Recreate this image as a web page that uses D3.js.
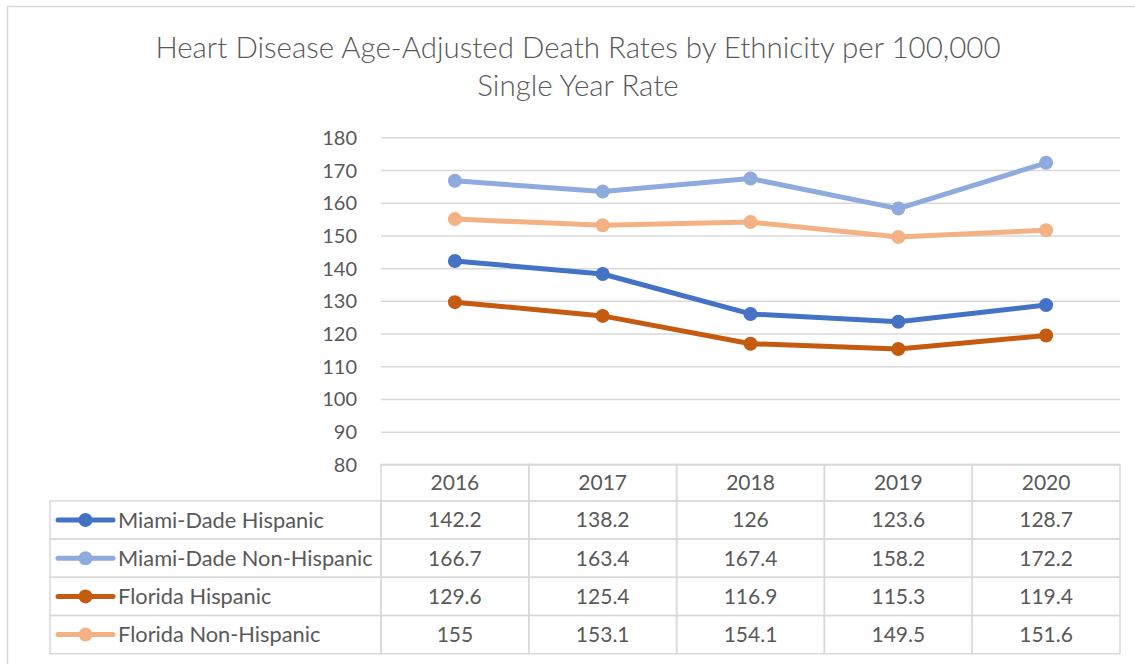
<!DOCTYPE html>
<html>
<head>
<meta charset="utf-8">
<script src="https://cdn.jsdelivr.net/npm/d3@7"></script>
<style>
  body { margin: 0; background: #fff; }
  svg text { font-family: Lato, "Open Sans", sans-serif; fill: #595959; }
</style>
</head>
<body>
<div id="chart"></div>
<script>
const years = ["2016", "2017", "2018", "2019", "2020"];
const seriesNames = ["Miami-Dade Hispanic", "Miami-Dade Non-Hispanic", "Florida Hispanic", "Florida Non-Hispanic"];
const miamiHispanic = [142.2, 138.2, 126, 123.6, 128.7];
const miamiNonHispanic = [166.7, 163.4, 167.4, 158.2, 172.2];
const floridaHispanic = [129.6, 125.4, 116.9, 115.3, 119.4];
const floridaNonHispanic = [155, 153.1, 154.1, 149.5, 151.6];
const seriesColors = ["#4472C4", "#8FAADC", "#C55A11", "#F4B183"];
const yTicks = [80, 90, 100, 110, 120, 130, 140, 150, 160, 170, 180];
const titleLines = ["Heart Disease Age-Adjusted Death Rates by Ethnicity per 100,000", "Single Year Rate"];

function main(){
    let width = 1135;
    let height = 664;

    let series = seriesNames.map(function(name, i){
        return {name: name, values: [miamiHispanic, miamiNonHispanic, floridaHispanic, floridaNonHispanic][i], color: seriesColors[i]};
    });

    let svg = d3.select("#chart").append("svg")
        .attr("width", width)
        .attr("height", height);

    // chart frame (only top/left edges fall inside the picture)
    svg.append("rect")
        .attr("x", 7.5).attr("y", 6.5)
        .attr("width", 1140).attr("height", 680)
        .attr("fill", "none")
        .attr("stroke", "#D9D9D9")
        .attr("stroke-width", 1.5);

    svg.selectAll(".title")
        .data(titleLines)
        .enter()
        .append("text")
        .attr("class", "title")
        .attr("x", 578)
        .attr("y", function(d, i){ return 58 + i * 38; })
        .attr("text-anchor", "middle")
        .style("font-size", "29.5px")
        .style("font-weight", 300)
        .text(function(d){ return d; });

    let x = d3.scaleBand().domain(years).range([381, 1120]);
    let y = d3.scaleLinear().domain([80, 180]).range([464.4, 137.3]);

    // gridlines
    let yAxis = d3.axisLeft(y)
        .tickValues(yTicks)
        .tickSize(-(1120 - 381))
        .tickPadding(24);

    let gy = svg.append("g")
        .attr("transform", "translate(381,0)")
        .call(yAxis);
    gy.select(".domain").remove();
    gy.selectAll(".tick line")
        .attr("stroke", "#D9D9D9")
        .attr("stroke-width", 1.5);
    gy.selectAll(".tick text")
        .style("font-size", "20px")
        .attr("dy", "0.35em");

    let line = d3.line()
        .x(function(d, i){ return x(years[i]) + x.bandwidth() / 2; })
        .y(function(d){ return y(d); });

    let lines = svg.append("g");
    series.forEach(function(s){
        lines.append("path")
            .datum(s.values)
            .attr("d", line)
            .attr("fill", "none")
            .attr("stroke", s.color)
            .attr("stroke-width", 5)
            .attr("stroke-linejoin", "round");
        lines.selectAll(null)
            .data(s.values)
            .enter()
            .append("circle")
            .attr("cx", function(d, i){ return x(years[i]) + x.bandwidth() / 2; })
            .attr("cy", function(d){ return y(d); })
            .attr("r", 7)
            .attr("fill", s.color);
    });

    // data table
    let tableTop = 464.4;
    let headerH = 36.5;
    let rowH = 38.2;
    let legendLeft = 50;
    let table = svg.append("g")
        .attr("stroke", "#D9D9D9")
        .attr("stroke-width", 1.5)
        .attr("fill", "none");

    years.forEach(function(yr){
        table.append("rect")
            .attr("x", x(yr)).attr("y", tableTop)
            .attr("width", x.bandwidth()).attr("height", headerH);
    });
    series.forEach(function(s, r){
        let top = tableTop + headerH + r * rowH;
        table.append("rect")
            .attr("x", legendLeft).attr("y", top)
            .attr("width", 381 - legendLeft).attr("height", rowH);
        years.forEach(function(yr){
            table.append("rect")
                .attr("x", x(yr)).attr("y", top)
                .attr("width", x.bandwidth()).attr("height", rowH);
        });
    });

    svg.selectAll(".yr")
        .data(years)
        .enter()
        .append("text")
        .attr("class", "yr")
        .attr("x", function(d){ return x(d) + x.bandwidth() / 2; })
        .attr("y", tableTop + headerH / 2)
        .attr("dy", "0.35em")
        .attr("text-anchor", "middle")
        .style("font-size", "21px")
        .text(function(d){ return d; });

    series.forEach(function(s, r){
        let cy = tableTop + headerH + r * rowH + rowH / 2;
        svg.append("line")
            .attr("x1", 58).attr("x2", 113)
            .attr("y1", cy).attr("y2", cy)
            .attr("stroke", s.color)
            .attr("stroke-width", 5)
            .attr("stroke-linecap", "round");
        svg.append("circle")
            .attr("cx", 85.5).attr("cy", cy)
            .attr("r", 7)
            .attr("fill", s.color);
        svg.append("text")
            .attr("x", 118).attr("y", cy)
            .attr("dy", "0.35em")
            .style("font-size", "21.8px")
            .text(s.name);
        svg.selectAll(null)
            .data(s.values)
            .enter()
            .append("text")
            .attr("x", function(d, i){ return x(years[i]) + x.bandwidth() / 2; })
            .attr("y", cy)
            .attr("dy", "0.35em")
            .attr("text-anchor", "middle")
            .style("font-size", "21px")
            .text(function(d){ return d; });
    });
}

main();
</script>
</body>
</html>
